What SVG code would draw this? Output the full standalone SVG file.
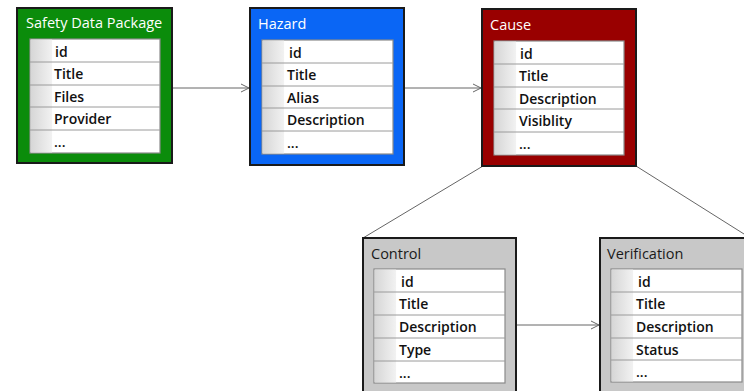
<svg xmlns="http://www.w3.org/2000/svg" width="744" height="391" viewBox="0 0 744 391">
<defs>
<linearGradient id="cell" x1="0" y1="0" x2="1" y2="0">
<stop offset="0" stop-color="#d6d6d6"/>
<stop offset="1" stop-color="#f2f2f2"/>
</linearGradient>
<marker id="arr" markerWidth="10" markerHeight="10" refX="9" refY="5" orient="auto" markerUnits="userSpaceOnUse">
<path d="M1,1 L9,5 L1,9" fill="none" stroke="#666" stroke-width="1"/>
</marker>
</defs>
<style>
.box{stroke:#1a1a1a;stroke-width:2}
.tbl{fill:#fff;stroke:#8a8a8a;stroke-width:1.2}
.cell{fill:url(#cell)}
.row{stroke:#9a9a9a;stroke-width:1}
.hdr{font-family:"Open Sans","Noto Sans",sans-serif;font-size:14.5px;fill:#fff}
.hdrd{font-family:"Open Sans","Noto Sans",sans-serif;font-size:14.5px;fill:#1a1a1a}
.fld{font-family:"Open Sans","Noto Sans",sans-serif;font-size:14px;font-weight:600;fill:#111}
.conn{stroke:#666;stroke-width:1;fill:none}
</style>
<rect width="744" height="391" fill="#fff"/>
<g id="connectors">
<line class="conn" x1="172" y1="88" x2="249" y2="88" marker-end="url(#arr)"/>
<line class="conn" x1="404" y1="88" x2="481" y2="88" marker-end="url(#arr)"/>
<line class="conn" x1="516" y1="325" x2="599" y2="325" marker-end="url(#arr)"/>
<line class="conn" x1="483" y1="166" x2="363" y2="238"/>
<line class="conn" x1="636" y1="166" x2="744" y2="234"/>
</g>
<g id="safety-data-package">
<rect class="box" x="17" y="8" width="155" height="155" fill="#0b8c0b"/>
<text class="hdr" x="26" y="28">Safety Data Package</text>
<rect class="tbl" x="30" y="39" width="130" height="114"/>
<rect class="cell" x="30.6" y="39.6" width="21.5" height="112.8"/>
<line class="row" x1="30" y1="62" x2="160" y2="62"/><line class="row" x1="30" y1="85" x2="160" y2="85"/><line class="row" x1="30" y1="107" x2="160" y2="107"/><line class="row" x1="30" y1="130" x2="160" y2="130"/>
<text class="fld" x="55" y="57">id</text>
<text class="fld" x="54" y="79">Title</text>
<text class="fld" x="54" y="102">Files</text>
<text class="fld" x="54" y="124">Provider</text>
<text class="fld" x="54" y="147">...</text>
</g>
<g id="hazard">
<rect class="box" x="250" y="8" width="154" height="157" fill="#0a66f5"/>
<text class="hdr" x="258" y="29">Hazard</text>
<rect class="tbl" x="262" y="40" width="131" height="114"/>
<rect class="cell" x="262.6" y="40.6" width="21.5" height="112.8"/>
<line class="row" x1="262" y1="63" x2="393" y2="63"/><line class="row" x1="262" y1="86" x2="393" y2="86"/><line class="row" x1="262" y1="108" x2="393" y2="108"/><line class="row" x1="262" y1="131" x2="393" y2="131"/>
<text class="fld" x="289" y="58">id</text>
<text class="fld" x="287" y="80">Title</text>
<text class="fld" x="287" y="103">Alias</text>
<text class="fld" x="287" y="125">Description</text>
<text class="fld" x="287" y="148">...</text>
</g>
<g id="cause">
<rect class="box" x="482" y="9" width="154" height="157" fill="#990000"/>
<text class="hdr" x="490" y="30">Cause</text>
<rect class="tbl" x="494" y="41" width="130" height="114"/>
<rect class="cell" x="494.6" y="41.6" width="21.5" height="112.8"/>
<line class="row" x1="494" y1="64" x2="624" y2="64"/><line class="row" x1="494" y1="87" x2="624" y2="87"/><line class="row" x1="494" y1="109" x2="624" y2="109"/><line class="row" x1="494" y1="132" x2="624" y2="132"/>
<text class="fld" x="520" y="59">id</text>
<text class="fld" x="519" y="81">Title</text>
<text class="fld" x="519" y="104">Description</text>
<text class="fld" x="519" y="126">Visiblity</text>
<text class="fld" x="519" y="149">...</text>
</g>
<g id="control">
<rect class="box" x="363" y="238" width="153" height="165" fill="#c8c8c8"/>
<text class="hdrd" x="371" y="259">Control</text>
<rect class="tbl" x="374" y="269" width="131" height="114"/>
<rect class="cell" x="374.6" y="269.6" width="21.5" height="112.8"/>
<line class="row" x1="374" y1="292" x2="505" y2="292"/><line class="row" x1="374" y1="315" x2="505" y2="315"/><line class="row" x1="374" y1="338" x2="505" y2="338"/><line class="row" x1="374" y1="361" x2="505" y2="361"/>
<text class="fld" x="401" y="287">id</text>
<text class="fld" x="399" y="309">Title</text>
<text class="fld" x="399" y="332">Description</text>
<text class="fld" x="399" y="355">Type</text>
<text class="fld" x="399" y="378">...</text>
</g>
<g id="verification">
<rect class="box" x="600" y="238" width="153" height="165" fill="#c8c8c8"/>
<text class="hdrd" x="607" y="259">Verification</text>
<rect class="tbl" x="611" y="269" width="131" height="113"/>
<rect class="cell" x="611.6" y="269.6" width="21.5" height="111.8"/>
<line class="row" x1="611" y1="292" x2="742" y2="292"/><line class="row" x1="611" y1="315" x2="742" y2="315"/><line class="row" x1="611" y1="338" x2="742" y2="338"/><line class="row" x1="611" y1="360" x2="742" y2="360"/>
<text class="fld" x="638" y="287">id</text>
<text class="fld" x="636" y="309">Title</text>
<text class="fld" x="636" y="332">Description</text>
<text class="fld" x="636" y="355">Status</text>
<text class="fld" x="636" y="377">...</text>
</g>
</svg>
